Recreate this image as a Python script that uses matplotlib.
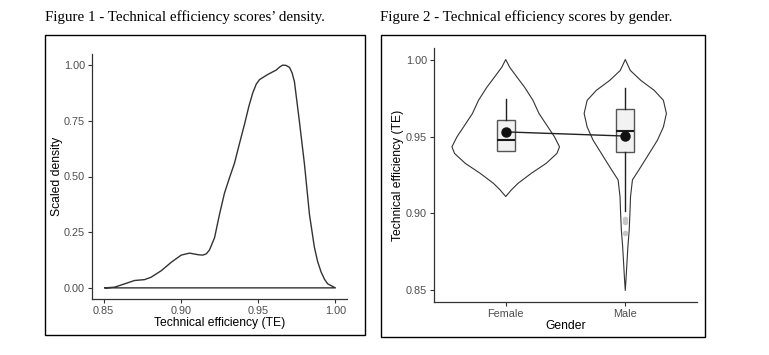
import numpy as np
import matplotlib
matplotlib.use("Agg")
import matplotlib.pyplot as plt
from matplotlib.patches import Rectangle

# Figure 1: scaled density of technical efficiency
te_x = [0.8506, 0.8571, 0.8636, 0.8700, 0.8765, 0.8808, 0.8873, 0.8938, 0.9002,
        0.9056, 0.9110, 0.9142, 0.9165, 0.9185, 0.9218, 0.9250, 0.9282, 0.9315,
        0.9347, 0.9380, 0.9412, 0.9440, 0.9465, 0.9488, 0.9509, 0.9562, 0.9617,
        0.9640, 0.9659, 0.9680, 0.9703, 0.9720, 0.9735, 0.9767, 0.9800, 0.9832,
        0.9864, 0.9885, 0.9907, 0.9930, 0.9950, 1.0000]
te_dens = [0.000, 0.003, 0.018, 0.033, 0.037, 0.048, 0.077, 0.115, 0.147,
           0.156, 0.149, 0.147, 0.153, 0.170, 0.225, 0.330, 0.425, 0.495,
           0.560, 0.650, 0.735, 0.815, 0.875, 0.915, 0.935, 0.958, 0.978,
           0.992, 1.000, 0.999, 0.990, 0.965, 0.925, 0.747, 0.554,
           0.330, 0.182, 0.118, 0.072, 0.038, 0.018, 0.000]

# Figure 2: violins (half widths) and box summaries by gender
genders = ["Female", "Male"]
fem_y = [1.000, 0.995, 0.9886, 0.982, 0.9735, 0.965, 0.9562, 0.9498, 0.9433,
         0.939, 0.9326, 0.9261, 0.9196, 0.9153, 0.911]
fem_hw = [0.0, 0.033, 0.094, 0.158, 0.228, 0.278, 0.353, 0.408, 0.45,
          0.428, 0.339, 0.214, 0.103, 0.047, 0.0]
male_y = [1.000, 0.9929, 0.9864, 0.980, 0.9735, 0.965, 0.9562, 0.9476, 0.939,
          0.9304, 0.9218, 0.911, 0.9003, 0.8894, 0.8786, 0.8679, 0.857, 0.850]
male_hw = [0.0, 0.042, 0.131, 0.242, 0.319, 0.344, 0.319, 0.269, 0.200,
           0.131, 0.060, 0.044, 0.039, 0.033, 0.022, 0.014, 0.006, 0.0]

q1 = [0.9405, 0.9400]
med = [0.9480, 0.9537]
q3 = [0.9605, 0.9680]
whis_lo = [0.9405, 0.9015]
whis_hi = [0.9746, 0.9817]
outliers = [[], [0.8964, 0.8942, 0.8873]]
means = [0.9530, 0.9503]

fig = plt.figure(figsize=(7.69, 3.55), dpi=100)
W, H = 769, 355

def fbox(x0, y0, x1, y1):
    # pixel box (from top-left) -> figure fraction
    return [x0 / W, 1 - y1 / H, (x1 - x0) / W, (y1 - y0) / H]

serif = ["Liberation Serif", "DejaVu Serif"]
sans = ["Liberation Sans", "DejaVu Sans"]

fig.text(45 / W, 1 - 17 / H, "Figure 1 - Technical efficiency scores\u2019 density.",
         family=serif, fontsize=10.8, va="center", ha="left")
fig.text(380 / W, 1 - 17 / H, "Figure 2 - Technical efficiency scores by gender.",
         family=serif, fontsize=10.8, va="center", ha="left")

for r in [fbox(45, 35, 365, 335), fbox(381, 35, 705, 337)]:
    fig.patches.append(Rectangle((r[0], r[1]), r[2], r[3], transform=fig.transFigure,
                                 fill=False, edgecolor="black", lw=1.0))

def style(ax):
    for s in ["top", "right"]:
        ax.spines[s].set_visible(False)
    for s in ["left", "bottom"]:
        ax.spines[s].set_color("#333333")
        ax.spines[s].set_linewidth(0.9)
    ax.tick_params(colors="#333333", labelcolor="#4d4d4d", length=3, width=0.8,
                   labelsize=7.8, pad=2)
    for lab in ax.get_xticklabels() + ax.get_yticklabels():
        lab.set_family(sans)

# left panel
ax1 = fig.add_axes(fbox(92, 54, 347, 299))
ax1.fill(te_x, te_dens, facecolor="none", edgecolor="#333333", lw=1.0,
         joinstyle="round")
ax1.set_xlim(0.8425, 1.0075)
ax1.set_ylim(-0.05, 1.05)
ax1.set_xticks([0.85, 0.90, 0.95, 1.00])
ax1.set_xticklabels(["0.85", "0.90", "0.95", "1.00"])
ax1.set_yticks([0, 0.25, 0.5, 0.75, 1.0])
ax1.set_yticklabels(["0.00", "0.25", "0.50", "0.75", "1.00"])
style(ax1)
ax1.set_xlabel("Technical efficiency (TE)", family=sans, fontsize=8.7, labelpad=1)
ax1.set_ylabel("Scaled density", family=sans, fontsize=8.7, labelpad=1)

# right panel
ax2 = fig.add_axes(fbox(434, 48, 697, 302))
pos = [1, 2]
for c, ys, hw in zip(pos, [fem_y, male_y], [fem_hw, male_hw]):
    ys = np.array(ys)
    hw = np.array(hw)
    xs = np.concatenate([c + hw, (c - hw)[::-1]])
    yy = np.concatenate([ys, ys[::-1]])
    ax2.fill(xs, yy, facecolor="white", edgecolor="#333333", lw=0.8, zorder=1,
             joinstyle="round")

stats = []
for i in range(2):
    stats.append(dict(med=med[i], q1=q1[i], q3=q3[i], whislo=whis_lo[i],
                      whishi=whis_hi[i], fliers=outliers[i], mean=means[i]))
ax2.bxp(stats, positions=pos, widths=0.15, patch_artist=True, showcaps=False,
        boxprops=dict(facecolor="#f2f2f2", edgecolor="#555555", lw=1.0),
        medianprops=dict(color="#1a1a1a", lw=1.5),
        whiskerprops=dict(color="#222222", lw=1.0),
        flierprops=dict(marker="o", markersize=3, markerfacecolor="#c8c8c8",
                        markeredgecolor="#c8c8c8"),
        manage_ticks=False, zorder=2)
ax2.plot(pos, means, color="#222222", lw=1.0, zorder=3)
ax2.plot(pos, means, "o", color="#111111", markersize=6.5, zorder=4)

ax2.set_xlim(0.4, 2.6)
ax2.set_ylim(0.8425, 1.0075)
ax2.set_xticks(pos)
ax2.set_xticklabels(genders)
ax2.set_yticks([0.85, 0.90, 0.95, 1.00])
ax2.set_yticklabels(["0.85", "0.90", "0.95", "1.00"])
style(ax2)
ax2.set_xlabel("Gender", family=sans, fontsize=8.7, labelpad=1)
ax2.set_ylabel("Technical efficiency (TE)", family=sans, fontsize=8.7, labelpad=1)

fig.savefig("out.png", dpi=100)
